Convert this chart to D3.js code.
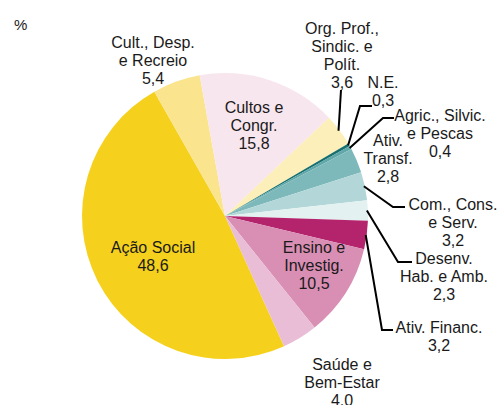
<!DOCTYPE html>
<html>
<head>
<meta charset="utf-8">
<script src="https://cdn.jsdelivr.net/npm/d3@7"></script>
<style>
  body { margin: 0; padding: 0; background: #fff; }
  text { font-family: "Liberation Sans", Arial, sans-serif; fill: #1a1a1a; }
</style>
</head>
<body>
<script>
// shares in %, clockwise starting with Ação Social
const categories = ["Ação Social", "Cult., Desp. e Recreio", "Cultos e Congr.", "Org. Prof., Sindic. e Polít.",
  "N.E.", "Agric., Silvic. e Pescas", "Ativ. Transf.", "Com., Cons. e Serv.", "Desenv., Hab. e Amb.",
  "Ativ. Financ.", "Ensino e Investig.", "Saúde e Bem-Estar"]
const values = [48.6, 5.4, 15.8, 3.6, 0.3, 0.4, 2.8, 3.2, 2.3, 3.2, 10.5, 4.0]
const labelLines = [
  ["Ação Social"], ["Cult., Desp.", "e Recreio"], ["Cultos e", "Congr."], ["Org. Prof.,", "Sindic. e", "Polít."],
  ["N.E."], ["Agric., Silvic.", "e Pescas"], ["Ativ.", "Transf."], ["Com., Cons.", "e Serv."],
  ["Desenv.", "Hab. e Amb."], ["Ativ. Financ."], ["Ensino e", "Investig."], ["Saúde e", "Bem-Estar"]
]
const valueLabels = ["48,6", "5,4", "15,8", "3,6", "0,3", "0,4", "2,8", "3,2", "2,3", "3,2", "10,5", "4,0"]

const colors = ["#F5D11E", "#FAE48E", "#F8E6EF", "#FCEFBA", "#17706F", "#5FA7A8", "#7DB9BA",
  "#B3D7D8", "#E3F1F1", "#B3246D", "#D98EB4", "#E9BDD6"]

// label placement (text centre x, first line y) and leader elbows
const layout = [
  { x: 153, y: 247 }, { x: 153, y: 42 }, { x: 254, y: 107 },
  { x: 342, y: 28, lead: [[341, 90]] },
  { x: 383, y: 82, lead: [[360, 106], [372, 106]] },
  { x: 440, y: 115, lead: [[383, 118], [394, 118]] },
  { x: 388, y: 140 },
  { x: 453, y: 204, lead: [[393, 207], [405, 207]] },
  { x: 444, y: 258, lead: [[398, 262], [412, 262]] },
  { x: 439, y: 327, lead: [[382, 330], [393, 330]] },
  { x: 314, y: 247 }, { x: 342, y: 364 }
]

const width = 497, height = 405
const cx = 225, cy = 216, radius = 143
const lineH = 18

const svg = d3.select("body").append("svg")
  .attr("width", width)
  .attr("height", height)

const pie = d3.pie().sort(null)
  .startAngle(155.6 * Math.PI / 180)
  .endAngle(155.6 * Math.PI / 180 + 2 * Math.PI)
const arcs = pie(values)
const arc = d3.arc().innerRadius(0).outerRadius(radius)
const edge = d3.arc().innerRadius(radius - 1).outerRadius(radius - 1)

const g = svg.append("g").attr("transform", `translate(${cx},${cy})`)
g.selectAll("path")
  .data(arcs)
  .join("path")
  .attr("d", arc)
  .attr("fill", (d, i) => colors[i])

// leader lines from slice edge
const line = d3.line()
svg.append("g")
  .selectAll("path")
  .data(arcs.filter((d, i) => layout[i].lead))
  .join("path")
  .attr("d", d => {
    const c = edge.centroid(d)
    return line([[cx + c[0], cy + c[1]], ...layout[d.index].lead])
  })
  .attr("fill", "none")
  .attr("stroke", "#000")
  .attr("stroke-width", 2)

const labels = svg.append("g")
  .selectAll("text")
  .data(categories)
  .join("text")
  .attr("text-anchor", "middle")
  .attr("dominant-baseline", "central")
  .attr("font-size", "16px")

labels.selectAll("tspan")
  .data((d, i) => labelLines[i].concat([valueLabels[i]]).map((t, k) => ({ t, k, i })))
  .join("tspan")
  .attr("x", d => layout[d.i].x)
  .attr("y", d => layout[d.i].y + d.k * lineH)
  .text(d => d.t)

svg.append("text")
  .attr("x", 14)
  .attr("y", 24)
  .attr("dominant-baseline", "central")
  .attr("font-size", "15px")
  .text("%")
</script>
</body>
</html>
